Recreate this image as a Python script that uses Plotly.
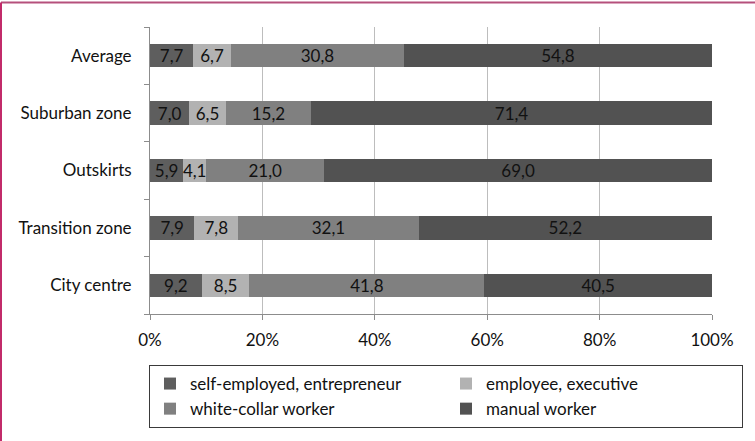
import plotly.graph_objects as go

# Urban zones, listed bottom to top
zones = ["City centre", "Transition zone", "Outskirts", "Suburban zone", "Average"]

# Share of each occupational group (%)
self_employed = [9.2, 7.9, 5.9, 7.0, 7.7]
employee = [8.5, 7.8, 4.1, 6.5, 6.7]
white_collar = [41.8, 32.1, 21.0, 15.2, 30.8]
manual = [40.5, 52.2, 69.0, 71.4, 54.8]

x_ticks = [0, 20, 40, 60, 80, 100]
x_tick_labels = ["0%", "20%", "40%", "60%", "80%", "100%"]

series = [
    ("self-employed, entrepreneur", self_employed, "#5e5e5e"),
    ("employee, executive", employee, "#b2b2b2"),
    ("white-collar worker", white_collar, "#808080"),
    ("manual worker", manual, "#525252"),
]

W, H = 755, 441
ML, MR, MT, MB = 150, 43, 27, 127
FONT = "Lato"
FS = 17

pw = W - ML - MR
ph = H - MT - MB

fig = go.Figure()
for name, vals, color in series:
    fig.add_trace(go.Bar(
        y=zones, x=vals, name=name, orientation="h",
        marker=dict(color=color, line=dict(width=0)),
        text=[f"{v:.1f}".replace(".", ",") for v in vals],
        textposition="inside", insidetextanchor="middle",
        constraintext="none", textangle=0,
        textfont=dict(family=FONT, size=FS, color="#111111"),
        hoverinfo="skip",
    ))

# frame lines along the top and left edge of the page
x_left = (1 - ML) / pw
y_top = 1 + (MT - 2.5) / ph
fig.add_shape(type="line", xref="paper", yref="paper",
              x0=x_left, x1=(W - ML) / pw, y0=y_top, y1=y_top,
              line=dict(color="#b5507c", width=2))
fig.add_shape(type="line", xref="paper", yref="paper",
              x0=x_left, x1=x_left, y0=-(MB) / ph, y1=y_top,
              line=dict(color="#c22b6a", width=2))

fig.update_layout(
    width=W, height=H,
    margin=dict(l=ML, r=MR, t=MT, b=MB),
    barmode="stack", barnorm="percent", bargap=0.59,
    plot_bgcolor="white", paper_bgcolor="white",
    font=dict(family=FONT, size=FS, color="#111111"),
    showlegend=True,
    legend=dict(
        orientation="h", traceorder="normal",
        x=(149 - ML) / pw, y=1 - (365 - MT) / ph,
        xanchor="left", yanchor="top",
        entrywidth=251, entrywidthmode="pixels",
        bordercolor="#3a3a3a", borderwidth=1, bgcolor="white",
        font=dict(family=FONT, size=FS, color="#111111"),
        tracegroupgap=0, itemclick=False,
    ),
    xaxis=dict(
        range=[0, 100], tickmode="array", tickvals=x_ticks, ticktext=x_tick_labels,
        showgrid=True, gridcolor="#bdbdbd", gridwidth=1,
        showline=True, linecolor="#8c8c8c", linewidth=1,
        ticks="outside", ticklen=5, tickcolor="#8c8c8c",
        zeroline=False, ticklabelstandoff=6,
        tickfont=dict(family=FONT, size=FS, color="#111111"),
        fixedrange=True,
    ),
    yaxis=dict(
        categoryorder="array", categoryarray=zones,
        showline=True, linecolor="#8c8c8c", linewidth=1,
        ticks="outside", ticklen=5, tickcolor="#8c8c8c",
        tickson="boundaries", showgrid=False, ticklabelstandoff=14,
        tickfont=dict(family=FONT, size=FS, color="#111111"),
        fixedrange=True,
    ),
)

fig.write_html("out.html")
